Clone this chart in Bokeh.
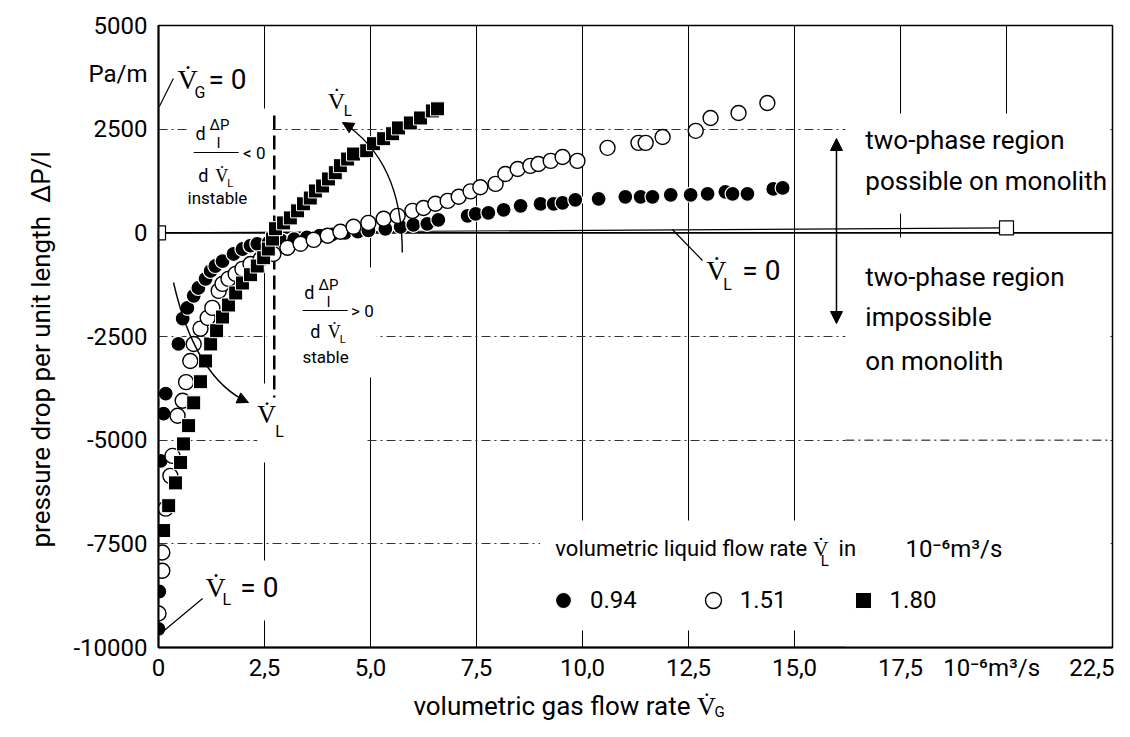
from bokeh.plotting import figure
from bokeh.models import (Range1d, FixedTicker, CustomJSTickFormatter, Label, Span,
                          BoxAnnotation, Arrow, NormalHead, Legend, LegendItem, Title)
from bokeh.core.properties import value
from bokeh.embed import file_html
from bokeh.resources import INLINE

FONT = "Roboto"
NBSP = "\u00a0"

# ---------------- data ----------------
x_ticks = [0, 2.5, 5, 7.5, 10, 12.5, 15, 17.5, 20, 22.5]
x_tick_labels = ["0", "2,5", "5,0", "7,5", "10,0", "12,5", "15,0", "17,5",
                 "10\u207b\u2076m\u00b3/s", "22,5"]
y_ticks = [-10000, -7500, -5000, -2500, 0, 2500, 5000]
y_tick_labels = ["-10000", "-7500", "-5000", "-2500", "0", "2500", "5000"]
y_unit_label = "Pa/m"
x_title = "volumetric gas flow rate V\u0307"
x_title_sub = "G"
y_title = "pressure drop per unit length" + NBSP * 2 + "\u0394P/l"

series_labels = ["0.94", "1.51", "1.80"]

vg_094 = [0.0, 0.02, 0.05, 0.12, 0.17, 0.47, 0.57, 0.68, 0.83, 0.94, 1.11, 1.23, 1.34,
          1.51, 1.77, 1.98, 2.17, 2.33, 2.6, 2.9, 3.2, 3.5, 3.8, 4.1, 4.4, 4.7, 4.95,
          5.35, 5.71, 6.01, 6.34, 6.60, 7.29, 7.48, 7.78, 8.14, 8.54, 9.01, 9.32, 9.53,
          9.83, 10.38, 11.01, 11.37, 11.65, 12.08, 12.55, 12.95, 13.37, 13.54, 13.89,
          14.50, 14.72]
dp_094 = [-9550, -8650, -5500, -4360, -3880, -2680, -2070, -1810, -1520, -1330, -1110,
          -920, -800, -680, -510, -390, -310, -265, -230, -190, -150, -110, -70, -40,
          0, 30, 60, 96, 145, 193, 217, 313, 410, 458, 482, 554, 651, 699, 699, 723,
          795, 819, 868, 868, 868, 916, 916, 940, 988, 940, 940, 1060, 1084]

vg_151 = [0.0, 0.09, 0.09, 0.17, 0.28, 0.33, 0.45, 0.57, 0.65, 0.75, 0.83, 0.99, 1.16,
          1.27, 1.42, 1.51, 1.65, 1.82, 1.98, 2.17, 2.41, 2.71, 3.04, 3.35, 3.66, 3.99,
          4.29, 4.60, 4.95, 5.31, 5.64, 5.99, 6.25, 6.53, 6.82, 7.08, 7.36, 7.59, 7.95,
          8.18, 8.47, 8.77, 8.96, 9.25, 9.53, 9.88, 10.59, 11.32, 11.49, 11.89, 12.67,
          13.02, 13.68, 14.36]
dp_151 = [-9180, -8150, -7710, -6650, -5860, -5380, -4410, -4050, -3600, -3090, -2680,
          -2310, -2050, -1810, -1400, -1230, -1110, -990, -870, -750, -630, -510, -360,
          -265, -170, -70, 25, 145, 240, 340, 410, 530, 600, 700, 770, 870, 1000, 1100,
          1180, 1420, 1540, 1615, 1660, 1735, 1830, 1735, 2050, 2170, 2170, 2310, 2460,
          2770, 2890, 3130]

vg_180 = [0.12, 0.24, 0.40, 0.52, 0.59, 0.71, 0.83, 0.99, 1.11, 1.23, 1.37, 1.51, 1.65,
          1.82, 1.98, 2.17, 2.33, 2.48, 2.59, 2.69, 2.76, 2.95, 3.11, 3.28, 3.42, 3.58,
          3.70, 3.87, 4.01, 4.17, 4.29, 4.46, 4.60, 4.91, 5.07, 5.31, 5.52, 5.66, 5.94,
          6.18, 6.46, 6.58]
dp_180 = [-7180, -6580, -6030, -5540, -5090, -4650, -4100, -3590, -3090, -2680, -2360,
          -2030, -1740, -1450, -1210, -1010, -800, -600, -390, -150, 100, 240, 360, 530,
          700, 840, 1010, 1130, 1300, 1450, 1620, 1780, 1900, 1980, 2150, 2270, 2390,
          2530, 2650, 2770, 2940, 2990]

vg_vl0 = [0.0, 20.0]
dp_vl0 = [0, 120]

# ---------------- figure ----------------
p = figure(frame_width=954, frame_height=622, min_border_left=158, min_border_right=2,
           min_border_top=25, min_border_bottom=74,
           x_range=Range1d(0, 22.5), y_range=Range1d(-10000, 5000),
           output_backend="svg", toolbar_location=None)
p.outline_line_color = "black"
p.outline_line_width = 1.5
p.background_fill_color = "white"
p.border_fill_color = "white"

# the "10^-6 m3/s" label sits left of its tick in the reference
pads = {20: 5}
x_shown = [lab + NBSP * pads.get(t, 0) for t, lab in zip(x_ticks, x_tick_labels)]
y_unit_pos = 3840
y_tick_pos = y_ticks + [y_unit_pos]
y_shown = y_tick_labels + [y_unit_label]

JS = "const i = tk.findIndex(t => Math.abs(t - tick) < 1e-6); return i >= 0 ? labels[i] : '';"
p.xaxis.ticker = FixedTicker(ticks=x_ticks)
p.xaxis.formatter = CustomJSTickFormatter(args=dict(tk=x_ticks, labels=x_shown), code=JS)
p.yaxis.ticker = FixedTicker(ticks=y_tick_pos)
p.yaxis.formatter = CustomJSTickFormatter(args=dict(tk=y_tick_pos, labels=y_shown), code=JS)
for ax in (p.xaxis, p.yaxis):
    ax.axis_line_width = 2
    ax.axis_line_color = "black"
    ax.major_tick_line_color = None
    ax.minor_tick_line_color = None
    ax.major_tick_in = 0
    ax.major_tick_out = 0
    ax.major_label_text_font = FONT
    ax.major_label_text_font_size = "24px"
    ax.major_label_text_color = "black"
    ax.axis_label_text_font = FONT
    ax.axis_label_text_font_style = "normal"
    ax.axis_label_text_color = "black"
    ax.axis_label_text_font_size = "26px"
p.xaxis.major_label_standoff = 6
p.yaxis.major_label_standoff = 11
# x title: centred on the frame, padded so that it starts where the reference's does
p.xaxis.axis_label = x_title + NBSP * 22
p.xaxis.axis_label_standoff = 6
p.yaxis.axis_label = y_title + NBSP * 4
p.yaxis.axis_label_standoff = 14
p.add_layout(Title(text=x_title_sub, align="left", offset=556, text_font=FONT,
                   text_font_size="15px", text_font_style="normal", standoff=-42,
                   vertical_align="top", text_color="black"), "below")

p.xgrid.ticker = FixedTicker(ticks=[2.5, 5, 7.5, 10, 12.5, 15, 17.5, 20])
p.xgrid.grid_line_color = "black"
p.xgrid.grid_line_width = 1
p.ygrid.ticker = FixedTicker(ticks=[-7500, -5000, -2500, 2500])
p.ygrid.grid_line_color = "#333333"
p.ygrid.grid_line_width = 1
p.ygrid.grid_line_dash = "9 4 2 4"

# white erasers for the interrupted grid lines
for (l, r, b, t) in [(0.75, 2.65, -900, 3000), (2.56, 5.14, -3489, -836),
                     (2.33, 4.9, -5539, -3633), (1.0, 2.9, -9349, -7902),
                     (16.2, 22.45, -9990, 2878), (9.0, 22.45, -9590, -6937)]:
    p.add_layout(BoxAnnotation(left=l, right=r, bottom=b, top=t, fill_color="white",
                               fill_alpha=1, line_color=None, level="underlay"))

p.add_layout(Span(location=0, dimension="width", line_color="black", line_width=1.6,
                  level="underlay"))


def seg(x0, y0, x1, y1, width=1.2, dash="solid", level="annotation", head=None):
    p.add_layout(Arrow(end=head, x_start=x0, y_start=y0, x_end=x1, y_end=y1,
                       line_width=width, line_dash=dash, line_color="black", level=level))


seg(16.2, -5000, 22.45, -5000, width=1, dash="9 4 2 4", level="underlay")
seg(17.5, 466, 17.5, -113, width=1, level="underlay")
seg(2.73, 2830, 2.73, -3971, width=2.5, dash="14 6", level="underlay")

# ---------------- data glyphs ----------------
r0 = p.line(vg_vl0, dp_vl0, line_color="black", line_width=1.2)
r0s = p.scatter(vg_vl0, dp_vl0, marker="square", size=14, fill_color="white",
                line_color="black", line_width=1.2)
r1 = p.scatter(vg_094, dp_094, marker="circle", size=15, fill_color="black",
               line_color="white", line_width=1.2)
r2 = p.scatter(vg_151, dp_151, marker="circle", size=15, fill_color="white",
               line_color="black", line_width=1.4)
r3 = p.scatter(vg_180, dp_180, marker="square", size=14, fill_color="black",
               line_color="white", line_width=1.0)

legend = Legend(items=[LegendItem(label=value(series_labels[0]), renderers=[r1]),
                       LegendItem(label=value(series_labels[1]), renderers=[r2]),
                       LegendItem(label=value(series_labels[2]), renderers=[r3])],
                orientation="horizontal", location=(385, 27), glyph_width=40,
                glyph_height=40, label_standoff=7, spacing=56, padding=0, margin=0,
                border_line_color=None, background_fill_alpha=0,
                label_text_font=FONT, label_text_font_size="24px",
                label_text_color="black")
p.add_layout(legend)


# ---------------- annotations (inside the frame) ----------------
def txt(x, y, s, size=24, align="left", baseline="middle", angle=0, dx=0, dy=0):
    p.add_layout(Label(x=x, y=y, text=s, text_font=FONT, text_font_size=f"{size}px",
                       text_align=align, text_baseline=baseline, angle=angle,
                       angle_units="deg", x_offset=dx, y_offset=dy, text_color="black"))


def vdot(x, y, sub, size=24, sub_size=15, dx=15, dy=-12):
    txt(x, y, "V\u0307", size=size)
    txt(x, y, sub, size=sub_size, dx=dx, dy=dy)


# V_G = 0
vdot(0.45, 3698, "G", size=28, sub_size=16, dx=17, dy=-13)
txt(1.18, 3698, "= 0", size=28)
seg(0.02, 3047, 0.35, 3722)

# upper V_L arrow
vdot(3.99, 3191, "L", size=24, sub_size=15, dx=16, dy=-10)
p.quadratic(x0=5.75, y0=-474, x1=4.34, y1=2661, cx=5.75, cy=1744,
            line_color="black", line_width=1.4)
seg(4.58, 2516, 4.34, 2661, head=NormalHead(size=11, fill_color="black", line_color="black"))

# lower V_L arrow
vdot(2.33, -4381, "L", size=26, sub_size=16, dx=18, dy=-17)
p.quadratic(x0=0.354, y0=-1198, x1=2.12, y1=-4092, cx=0.873, cy=-3513,
            line_color="black", line_width=1.4)
seg(1.89, -3983, 2.12, -4092, head=NormalHead(size=11, fill_color="black", line_color="black"))

# fraction: instable
txt(0.99, 2395, "d", size=18, align="center")
txt(1.44, 2612, "\u0394P", size=15, align="center")
txt(1.415, 2178, "l", size=15, align="center")
seg(0.83, 1937, 1.89, 1937, width=1)
txt(2.26, 1937, "< 0", size=17, align="center")
txt(0.94, 1383, "d", size=18)
vdot(1.34, 1383, "L", size=18, sub_size=11, dx=12, dy=-8)
txt(1.39, 852, "instable", size=17, align="center")

# fraction: stable
txt(3.56, -1439, "d", size=18, align="center")
txt(4.01, -1270, "\u0394P", size=15, align="center")
txt(4.01, -1656, "l", size=15, align="center")
seg(3.40, -1873, 4.46, -1873, width=1)
txt(4.81, -1873, "> 0", size=17, align="center")
txt(3.58, -2380, "d", size=18)
vdot(3.99, -2380, "L", size=18, sub_size=11, dx=12, dy=-8)
txt(3.94, -3006, "stable", size=17, align="center")

# V_L = 0 (lower left)
vdot(1.11, -8553, "L", size=28, sub_size=16, dx=17, dy=-12)
txt(1.93, -8553, "= 0", size=28)
seg(0.05, -9662, 1.04, -8818)

# V_L = 0 (middle)
vdot(12.92, -908, "L", size=28, sub_size=16, dx=17, dy=-14)
txt(13.77, -908, "= 0", size=28)
seg(12.12, 80, 12.83, -667)

# double arrow + region texts
p.add_layout(Arrow(start=NormalHead(size=12, fill_color="black", line_color="black"),
                   end=NormalHead(size=12, fill_color="black", line_color="black"),
                   x_start=15.99, y_start=-2187, x_end=15.99, y_end=2275,
                   line_width=1.5, line_color="black"))
txt(16.67, 2227, "two-phase region", size=26)
txt(16.67, 1262, "possible on monolith", size=26)
txt(16.67, -1077, "two-phase region", size=26)
txt(16.67, -2018, "impossible", size=26)
txt(16.67, -3079, "on monolith", size=26)

# legend title
txt(9.36, -7613, "volumetric liquid flow rate V\u0307", size=22)
txt(15.62, -7613, "L", size=15, dy=-12)
txt(16.04, -7613, "in", size=22)
txt(17.62, -7613, "10\u207b\u2076m\u00b3/s", size=24)

open("out.html", "w").write(file_html(p, INLINE))
